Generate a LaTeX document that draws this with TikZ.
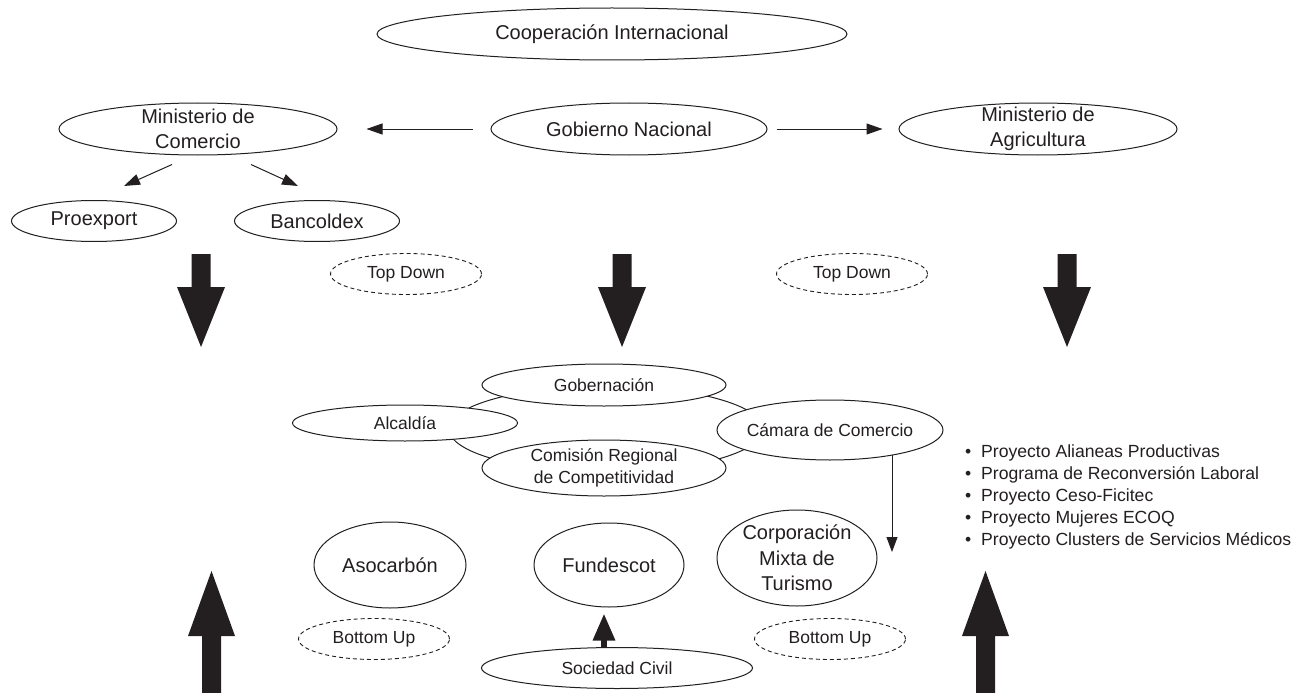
\documentclass[tikz,border=0pt]{standalone}
\usepackage{fontspec}
\setmainfont{Liberation Sans}
\usetikzlibrary{shapes.geometric,arrows.meta,backgrounds}
\definecolor{ink}{RGB}{35,31,32}
\begin{document}
\begin{tikzpicture}[x=1pt,y=-1pt,
  ov/.style 2 args={ellipse, draw=ink, fill=white, line width=1pt, inner sep=0pt, minimum width=#1, minimum height=#2},
  dashov/.style={ellipse, draw=ink, fill=white, line width=0.9pt, dash pattern=on 4pt off 3pt, inner sep=0pt, minimum width=151pt, minimum height=41pt},
  big/.style={font=\fontsize{20}{25.5}\selectfont, text=ink, align=center, inner sep=0pt},
  small/.style={font=\fontsize{17.5}{22}\selectfont, text=ink, align=center, inner sep=0pt},
  conn/.style={draw=ink, line width=1pt, -{Triangle[length=16pt,width=11pt]}},
  bigdown/.pic={\fill[ink] (-9.5,0) -- (9.5,0) -- (9.5,33) -- (24,33) -- (0,93) -- (-24,33) -- (-9.5,33) -- cycle;},
  bigup/.pic={\fill[ink] (0,0) -- (23.5,65) -- (9.5,65) -- (9.5,122) -- (-9.5,122) -- (-9.5,65) -- (-23.5,65) -- cycle;},
]
\useasboundingbox (0,0) rectangle (1302,693);

% top level
\node[ov={470pt}{52pt}, label={[big]center:Cooperación Internacional}] (coop) at (612,34) {};
\node[ov={278pt}{52pt}, label={[big]center:{Ministerio de\\Comercio}}] (mincom) at (198,129) {};
\node[ov={276pt}{52pt}, label={[big]center:Gobierno Nacional}] (gob) at (629,129) {};
\node[ov={278pt}{52pt}, label={[big]center:{Ministerio de\\Agricultura}}] (minagr) at (1038,129) {};
\node[ov={165pt}{41pt}, label={[big]center:Proexport}] (proex) at (94,221) {};
\node[ov={165pt}{41pt}, label={[big]center:Bancoldex}] (banco) at (317,221) {};

\node[dashov, label={[small]center:Top Down}] (td1) at (406,274) {};
\node[dashov, label={[small]center:Top Down}] (td2) at (852,274) {};

% connectors at top
\draw[conn, shorten <=18pt, shorten >=29pt] (gob.west) -- (mincom.east);
\draw[conn, shorten <=9pt, shorten >=16pt] (gob.east) -- (minagr.west);
\draw[conn] ([xshift=-26pt,yshift=-9pt]mincom.south) -- ([xshift=30pt,yshift=14pt]proex.north);
\draw[conn] ([xshift=53pt,yshift=-9pt]mincom.south) -- ([xshift=-19pt,yshift=14pt]banco.north);

% big arrows
\pic (da1) at (201,254) {bigdown};
\pic (da2) at (622,254) {bigdown};
\pic (da3) at (1067,254) {bigdown};
\pic (ua1) at (211.5,571) {bigup};
\pic (ua2) at (985.5,571) {bigup};

% regional cluster
\node[ov={244pt}{42pt}, label={[small]center:Gobernación}] (gobern) at (604,385) {};
\node[ov={225pt}{36pt}, label={[small]center:Alcaldía}] (alc) at (405,423) {};
\node[ov={226pt}{60pt}, label={[small]center:Cámara de Comercio}] (cam) at (830,430) {};
\node[ov={244pt}{56pt}, label={[small]center:{Comisión Regional\\de Competitividad}}] (comis) at (604,468) {};

% lower level
\node[ov={152pt}{86pt}, label={[big]center:Asocarbón}] (asoc) at (390,565) {};
\node[ov={150pt}{84pt}, label={[big]center:Fundescot}] (fund) at (609,565) {};
\node[ov={160pt}{96pt}, label={[big]center:{Corporación\\Mixta de\\Turismo}}] (corp) at (797,558) {};
\node[dashov, label={[small]center:Bottom Up}] (bu1) at (374,639) {};
\node[dashov, label={[small]center:Bottom Up}] (bu2) at (830,639) {};
\node[ov={271pt}{41pt}, label={[small]center:Sociedad Civil}] (soc) at (617,668) {};

\draw[draw=ink, line width=6pt, -{Triangle[length=27pt,width=21pt]}, shorten >=6pt]
  ([xshift=-5pt]fund.south |- soc.north) -- ([xshift=-5pt]fund.south);

\coordinate (camtip) at (892,552);

\begin{scope}[on background layer]
  \node[ellipse, draw=ink, line width=1pt, inner sep=0pt, minimum width=314pt, minimum height=86pt] (ring) at (606,429) {};
  \draw[conn, -{Triangle[length=15pt,width=11pt]}] (cam.center -| camtip) -- (camtip);
\end{scope}

% bullet list
\foreach \t [count=\i] in {Proyecto Alianeas Productivas, Programa de Reconversión Laboral, Proyecto Ceso-Ficitec, Proyecto Mujeres ECOQ, Proyecto Clusters de Servicios Médicos}
  \node[anchor=base west, inner sep=0pt, font=\fontsize{17.6}{22}\selectfont, text=ink] (b\i) at (965,435+22*\i) {\makebox[16pt][l]{•}\t};

\end{tikzpicture}
\end{document}
